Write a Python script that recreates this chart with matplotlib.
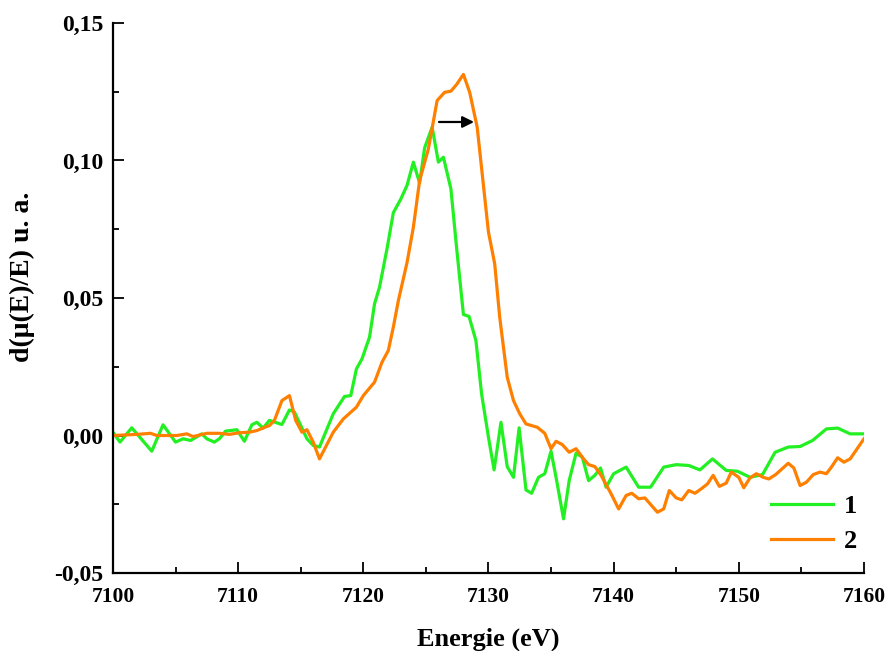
import numpy as np
import matplotlib
matplotlib.use("Agg")
import matplotlib.pyplot as plt
from matplotlib.ticker import MultipleLocator, FuncFormatter

# ===========================================
# データ
# ===========================================

# 試料 1 (緑)
e1 = [7100.0, 7100.56, 7101.5, 7103.1, 7104.0, 7105.0, 7105.6, 7106.2, 7107.1, 7107.5,
      7108.1, 7108.5, 7109.0, 7109.9, 7110.5, 7111.1, 7111.5, 7112.0, 7112.5, 7113.5,
      7114.1, 7114.5, 7115.5, 7116.0, 7116.5, 7117.6, 7118.5, 7119.0, 7119.45, 7119.9,
      7120.5, 7120.9, 7121.3, 7121.9, 7122.4, 7123.0, 7123.5, 7124.0, 7124.5, 7124.9,
      7125.5, 7126.0, 7126.4, 7127.0, 7127.45, 7128.0, 7128.45, 7129.0, 7129.45, 7130.0,
      7130.45, 7131.0, 7131.5, 7132.0, 7132.45, 7133.0, 7133.45, 7134.0, 7134.5, 7135.0,
      7135.4, 7136.0, 7136.45, 7137.0, 7137.5, 7138.0, 7138.5, 7138.95, 7139.4, 7140.0,
      7141.0, 7142.0, 7142.95, 7144.0, 7145.0, 7146.0, 7146.9, 7147.9, 7149.0, 7149.9,
      7150.9, 7151.9, 7152.9, 7153.95, 7154.9, 7155.9, 7157.0, 7157.9, 7158.9, 7160.0]
y1 = [0.0012, -0.0024, 0.0028, -0.0057, 0.0039, -0.0024, -0.0012, -0.0018, 0.0006, -0.0012,
      -0.0024, -0.0012, 0.0016, 0.0021, -0.0021, 0.0039, 0.0048, 0.0027, 0.0055, 0.0040,
      0.0093, 0.0085, -0.0012, -0.0036, -0.0042, 0.0079, 0.0142, 0.0145, 0.0242, 0.0279,
      0.0358, 0.0479, 0.054, 0.068, 0.081, 0.086, 0.091, 0.0994, 0.0918, 0.1046,
      0.1121, 0.0994, 0.1012, 0.0897, 0.0685, 0.044, 0.0433, 0.0345, 0.0152, -0.0006,
      -0.0125, 0.0048, -0.0113, -0.0152, 0.0028, -0.0198, -0.021, -0.0152, -0.0139, -0.0057,
      -0.0152, -0.0303, -0.0164, -0.0064, -0.0079, -0.0164, -0.0145, -0.0118, -0.0188, -0.0139,
      -0.0115, -0.0188, -0.0188, -0.0115, -0.0106, -0.0109, -0.0125, -0.0085, -0.0127, -0.013,
      -0.0152, -0.0142, -0.0061, -0.0042, -0.004, -0.0018, 0.0024, 0.0027, 0.0006, 0.0006]

# 試料 2 (橙)
e2 = [7100.0, 7101.9, 7103.0, 7103.5, 7105.1, 7105.9, 7106.4, 7107.5, 7108.5, 7109.3,
      7110.1, 7110.9, 7111.5, 7112.3, 7112.5, 7112.9, 7113.5, 7114.1, 7114.6, 7115.1,
      7115.5, 7116.0, 7116.5, 7117.6, 7118.4, 7119.45, 7120.0, 7120.9, 7121.5, 7122.0,
      7122.4, 7122.8, 7123.5, 7124.0, 7124.5, 7125.2, 7125.9, 7126.5, 7127.0, 7127.45,
      7128.0, 7128.5, 7129.1, 7130.0, 7130.5, 7130.9, 7131.5, 7132.0, 7132.5, 7133.0,
      7133.9, 7134.5, 7135.0, 7135.4, 7135.9, 7136.45, 7137.0, 7137.6, 7138.0, 7138.5,
      7139.0, 7139.8, 7140.4, 7141.0, 7141.45, 7142.0, 7142.5, 7143.5, 7144.0, 7144.45,
      7145.0, 7145.45, 7146.0, 7146.5, 7147.0, 7147.5, 7147.95, 7148.45, 7149.0, 7149.4,
      7150.0, 7150.4, 7150.9, 7151.4, 7151.95, 7152.4, 7152.95, 7153.95, 7154.4, 7154.9,
      7155.4, 7155.95, 7156.5, 7157.0, 7157.4, 7157.9, 7158.4, 7158.9, 7160.0]
y2 = [0.0, 0.0004, 0.0008, 0.0, 0.0, 0.0006, -0.0004, 0.0008, 0.0008, 0.0004,
      0.001, 0.0012, 0.0018, 0.0033, 0.0036, 0.0055, 0.0127, 0.0145, 0.0055, 0.0012,
      0.0021, -0.0024, -0.0085, 0.0012, 0.006, 0.0103, 0.0145, 0.0194, 0.0267, 0.0309,
      0.0394, 0.049, 0.063, 0.0757, 0.0927, 0.1042, 0.1218, 0.1248, 0.1252, 0.1276,
      0.1313, 0.1248, 0.1121, 0.074, 0.0624, 0.043, 0.0212, 0.0127, 0.0079, 0.0042,
      0.003, 0.0008, -0.0048, -0.0021, -0.0033, -0.0061, -0.0048, -0.0085, -0.0106, -0.0113,
      -0.0145, -0.0212, -0.0267, -0.0218, -0.021, -0.023, -0.0227, -0.0279, -0.0267, -0.02,
      -0.0227, -0.0234, -0.02, -0.021, -0.0194, -0.0176, -0.0145, -0.0185, -0.0173, -0.0133,
      -0.0152, -0.019, -0.0154, -0.0139, -0.0152, -0.0158, -0.0142, -0.0101, -0.0118, -0.0182,
      -0.017, -0.0142, -0.0133, -0.0139, -0.0115, -0.0081, -0.0097, -0.0085, -0.0012]

labels = ["1", "2"]

# 矢印 (吸収端のシフト)
arrow_from = (7126.05, 0.114)
arrow_to = (7128.85, 0.114)

# ===========================================
# 描画
# ===========================================

plt.rcParams["font.family"] = ["Liberation Serif", "DejaVu Serif"]
plt.rcParams["font.weight"] = "bold"

fig = plt.figure(figsize=(8.86, 6.51), dpi=100)
ax = fig.add_axes([0.1275, 0.1198, 0.8476, 0.8449])

ax.plot(e1, y1, color="#22f022", lw=2.3, label=labels[0])
ax.plot(e2, y2, color="#ff8000", lw=2.3, label=labels[1])

ax.annotate("", xy=arrow_to, xytext=arrow_from,
            arrowprops=dict(arrowstyle="-|>", color="black", lw=1.6,
                            mutation_scale=17, shrinkA=0, shrinkB=0))

ax.set_xlim(7100, 7160)
ax.set_ylim(-0.05, 0.15)

ax.xaxis.set_major_locator(MultipleLocator(10))
ax.xaxis.set_minor_locator(MultipleLocator(5))
ax.yaxis.set_major_locator(MultipleLocator(0.05))
ax.yaxis.set_minor_locator(MultipleLocator(0.025))

# 小数点はカンマ
ax.yaxis.set_major_formatter(FuncFormatter(lambda v, p: f"{v:.2f}".replace(".", ",")))

for s in ["top", "right"]:
    ax.spines[s].set_visible(False)
for s in ["left", "bottom"]:
    ax.spines[s].set_linewidth(1.6)

ax.tick_params(which="major", direction="in", length=8, width=1.3)
ax.tick_params(which="minor", direction="in", length=4.5, width=1.3)
ax.tick_params(axis="x", which="major", labelsize=15.5, pad=10)
ax.tick_params(axis="y", which="major", labelsize=17, pad=7)

ax.set_xlabel("Energie (eV)", fontsize=19, fontweight="bold", labelpad=15)
ax.set_ylabel("d(μ(E)/E) u. a.", fontsize=20, fontweight="bold")
ax.yaxis.set_label_coords(-0.104, 0.538)

ax.legend(loc="upper left", bbox_to_anchor=(0.876, 0.142), frameon=False,
          fontsize=19, handlelength=2.35, handletextpad=0.4, labelspacing=0.42,
          borderpad=0, borderaxespad=0)

fig.savefig("out.png", dpi=100)
